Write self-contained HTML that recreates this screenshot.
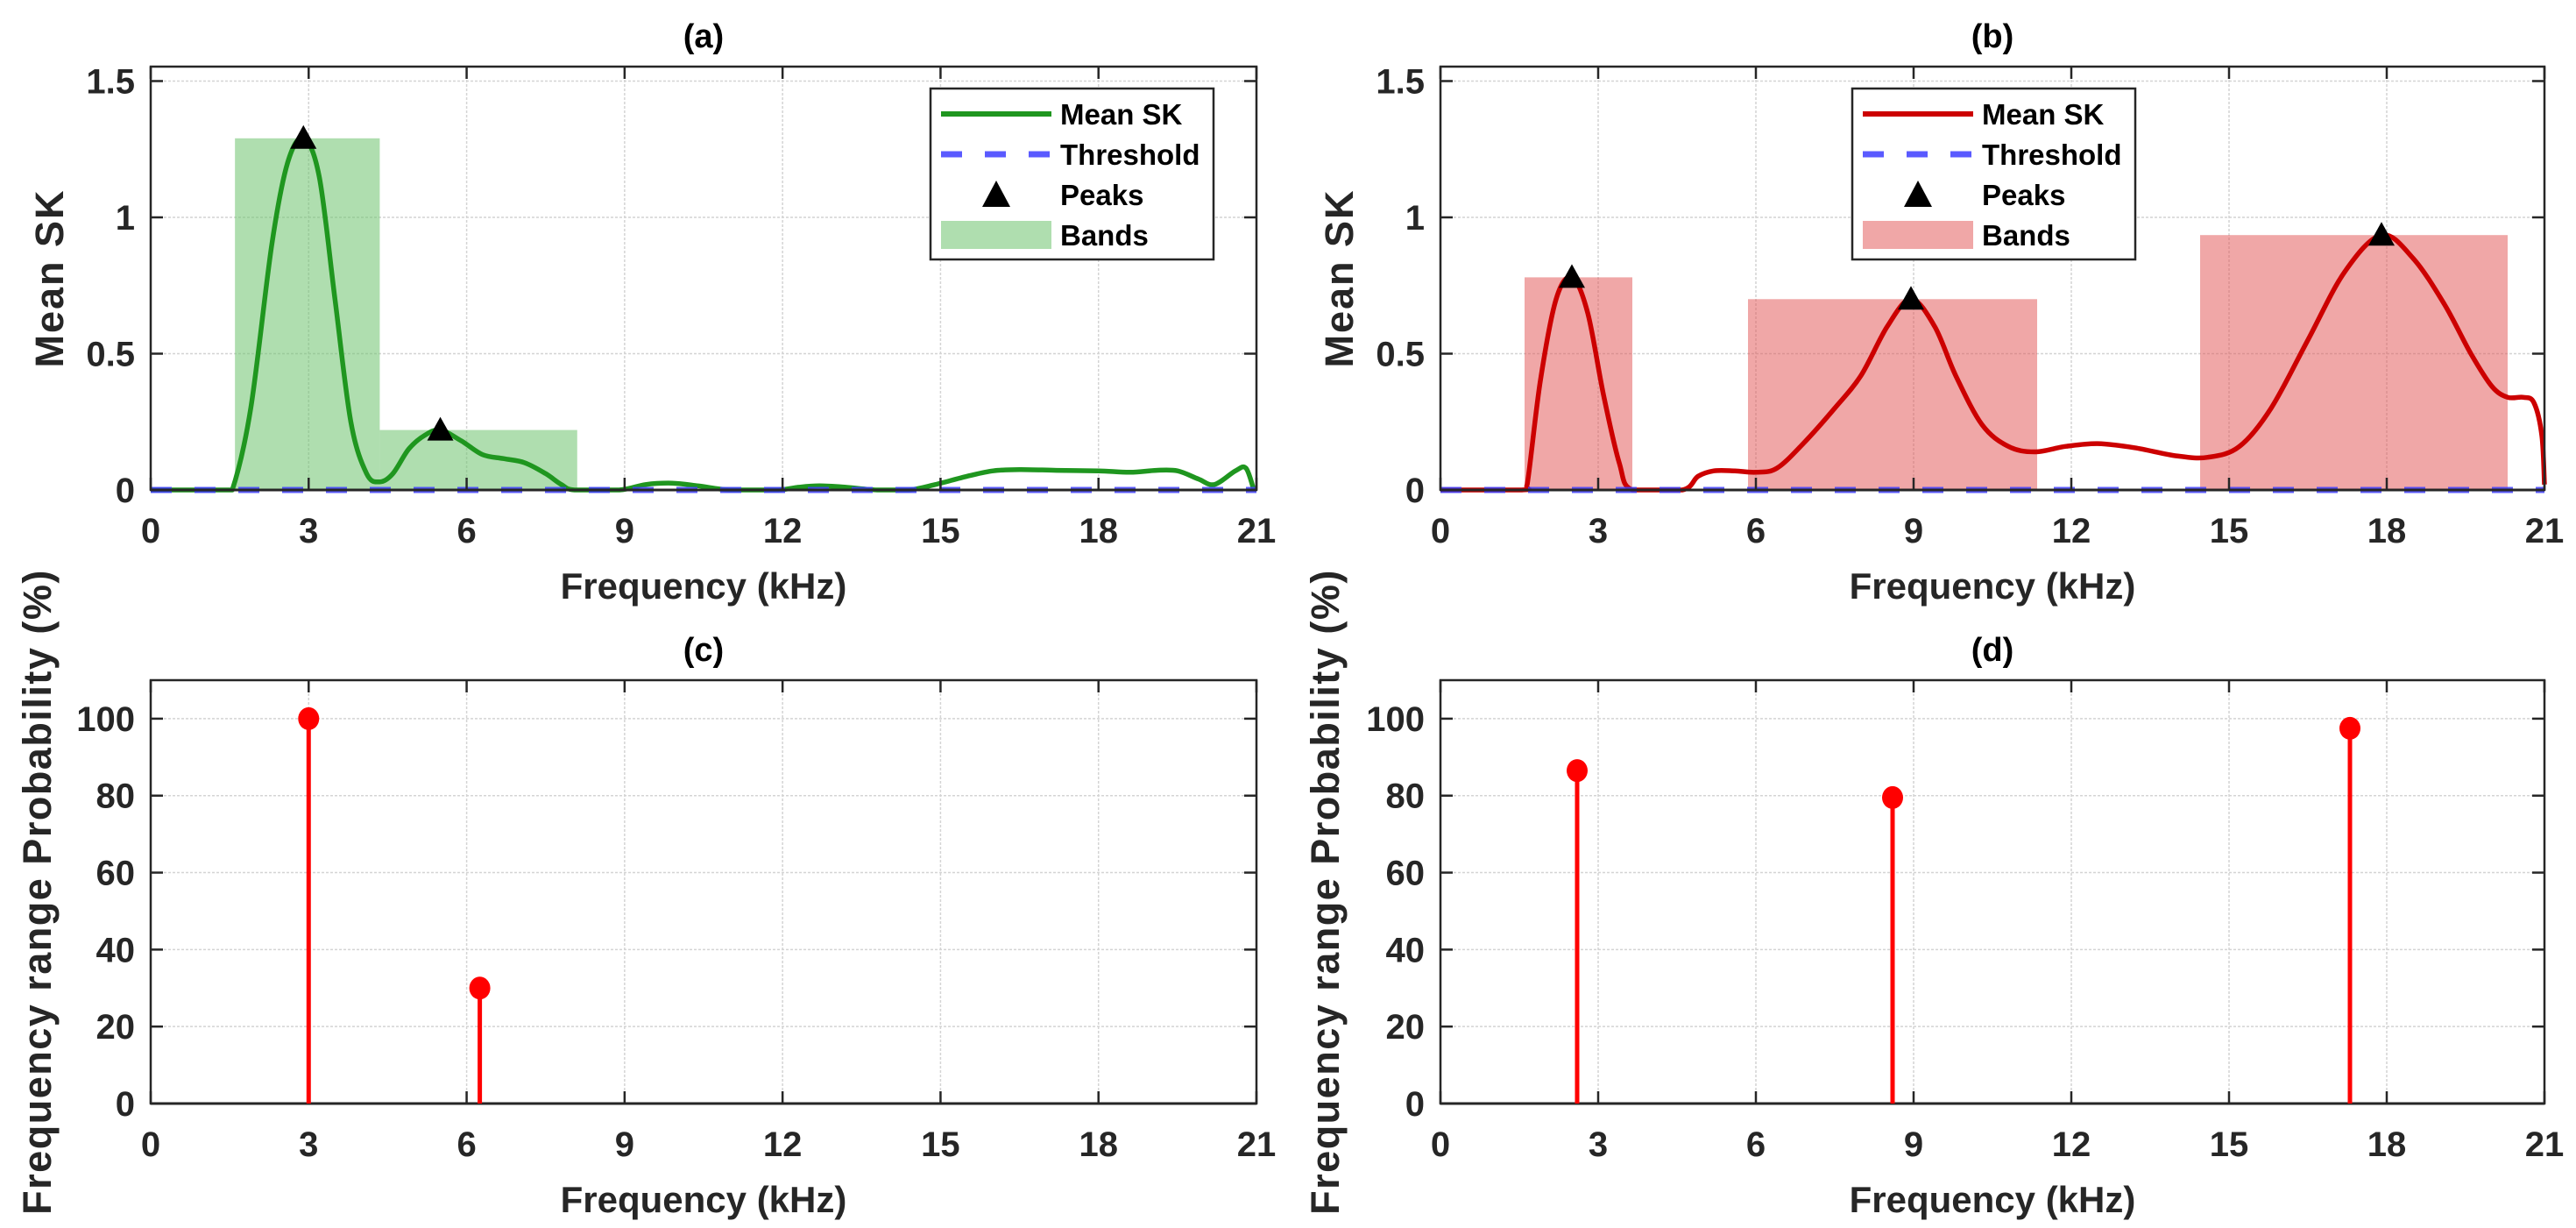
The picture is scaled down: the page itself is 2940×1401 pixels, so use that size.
<!DOCTYPE html>
<html><head><meta charset="utf-8"><style>
html,body{margin:0;padding:0;background:#fff;}
svg{display:block;font-family:"Liberation Sans",Arial,sans-serif;}
</style></head><body>
<svg id="fig" width="2940" height="1401" viewBox="0 0 2940 1401" xmlns="http://www.w3.org/2000/svg"></svg>
<script>
// ---- data ----
const xTicks = [0,3,6,9,12,15,18,21];
const skTicks = [0,0.5,1,1.5];
const skTickLabels = ['0','0.5','1','1.5'];
const probTicks = [0,20,40,60,80,100];

const curveA_x = [0,1.4,1.55,1.9,2.3,2.6,2.9,3.2,3.5,3.8,4.1,4.35,4.6,4.9,5.2,5.5,5.9,6.3,6.7,7.1,7.5,7.8,8.05,8.9,9.4,9.9,10.4,11.0,11.9,12.3,12.7,13.2,13.8,14.4,14.9,15.5,16.0,16.5,17.2,18.0,18.6,19.1,19.5,19.9,20.2,20.6,20.8,20.95];
const curveA_y = [0,0,0,0.3,0.9,1.2,1.29,1.15,0.7,0.25,0.06,0.03,0.06,0.15,0.2,0.22,0.18,0.13,0.115,0.1,0.06,0.02,0,0,0.02,0.025,0.015,0,0,0.01,0.015,0.01,0,0,0.02,0.05,0.07,0.075,0.072,0.07,0.065,0.072,0.07,0.04,0.02,0.07,0.08,0];
const bandsA_x0 = [1.6,4.35];
const bandsA_x1 = [4.35,8.1];
const bandsA_h = [1.29,0.22];
const peaksA_x = [2.9,5.5];
const peaksA_y = [1.29,0.22];

const curveB_x = [0,1.55,1.65,1.9,2.2,2.5,2.8,3.1,3.4,3.65,4.6,4.9,5.2,5.6,6.0,6.4,6.9,7.5,8.0,8.5,8.95,9.4,9.8,10.3,10.8,11.3,11.9,12.5,13.2,14.0,14.6,15.2,15.8,16.5,17.2,17.9,18.5,19.1,19.6,20.0,20.3,20.6,20.8,20.95,21.0];
const curveB_y = [0,0,0.02,0.4,0.7,0.78,0.65,0.35,0.1,0,0,0.05,0.07,0.07,0.065,0.08,0.17,0.3,0.42,0.6,0.7,0.6,0.42,0.24,0.16,0.14,0.16,0.17,0.155,0.125,0.12,0.16,0.3,0.55,0.8,0.935,0.85,0.68,0.5,0.38,0.34,0.34,0.32,0.2,0.02];
const bandsB_x0 = [1.6,5.85,14.45];
const bandsB_x1 = [3.65,11.35,20.3];
const bandsB_h = [0.78,0.70,0.935];
const peaksB_x = [2.5,8.95,17.9];
const peaksB_y = [0.78,0.70,0.935];

const stemsC_x = [3.0,6.25];
const stemsC_y = [100,30];
const stemsD_x = [2.6,8.6,17.3];
const stemsD_y = [86.5,79.5,97.5];

// ---- helpers ----
const NS='http://www.w3.org/2000/svg';
const svg=document.getElementById('fig');
function mk(tag,attrs,parent){const e=document.createElementNS(NS,tag);for(const k in attrs)e.setAttribute(k,attrs[k]);(parent||svg).appendChild(e);return e;}
function smoothPath(pts,base){
  let d='M'+pts[0][0].toFixed(1)+','+pts[0][1].toFixed(1);
  for(let i=0;i<pts.length-1;i++){
    const p0=pts[Math.max(0,i-1)],p1=pts[i],p2=pts[i+1],p3=pts[Math.min(pts.length-1,i+2)];
    const c1=[p1[0]+(p2[0]-p0[0])/6,Math.min(base,p1[1]+(p2[1]-p0[1])/6)];
    const c2=[p2[0]-(p3[0]-p1[0])/6,Math.min(base,p2[1]-(p3[1]-p1[1])/6)];
    d+=' C'+c1[0].toFixed(1)+','+c1[1].toFixed(1)+' '+c2[0].toFixed(1)+','+c2[1].toFixed(1)+' '+p2[0].toFixed(1)+','+p2[1].toFixed(1);
  }
  return d;
}

function axes(o){
  const g=mk('g',{});
  
  
  const X=v=>o.L+(v-0)/(21-0)*(o.R-o.L);
  const Y=v=>o.B-(v-o.ymin)/(o.ymax-o.ymin)*(o.B-o.T);
  xTicks.forEach(t=>{const l=mk('line',{x1:X(t),x2:X(t),y1:o.T,y2:o.B,stroke:'#d4d4d4','stroke-width':1.5,'stroke-dasharray':'3,2'},g);});
  o.yt.forEach(t=>{const l=mk('line',{x1:o.L,x2:o.R,y1:Y(t),y2:Y(t),stroke:'#d4d4d4','stroke-width':1.5,'stroke-dasharray':'3,2'},g);});
  o.X=X;o.Y=Y;o.g=g;
  return o;
}
function frame(o){
  const g=o.g,X=o.X,Y=o.Y;
  const r=mk('rect',{x:o.L,y:o.T,width:o.R-o.L,height:o.B-o.T,fill:'none',stroke:'#262626','stroke-width':2.5},g);
  
  mk('line',{x1:o.L,x2:o.R,y1:o.B,y2:o.B,stroke:'#262626','stroke-width':3},g);
  xTicks.forEach(t=>{
    mk('line',{x1:X(t),x2:X(t),y1:o.B,y2:o.B-14,stroke:'#262626','stroke-width':2.5},g);
    mk('line',{x1:X(t),x2:X(t),y1:o.T,y2:o.T+14,stroke:'#262626','stroke-width':2.5},g);
    const tx=mk('text',{x:X(t),y:o.B+60,'text-anchor':'middle','font-size':40,'font-weight':'bold',fill:'#262626'},g);
    tx.textContent=t;
  });
  o.yt.forEach((t,i)=>{
    mk('line',{x1:o.L,x2:o.L+14,y1:Y(t),y2:Y(t),stroke:'#262626','stroke-width':2.5},g);
    mk('line',{x1:o.R,x2:o.R-14,y1:Y(t),y2:Y(t),stroke:'#262626','stroke-width':2.5},g);
    const tx=mk('text',{x:o.L-18,y:Y(t)+14,'text-anchor':'end','font-size':40,'font-weight':'bold',fill:'#262626'},g);
    tx.textContent=o.ytl[i];
  });
  const ti=mk('text',{x:(o.L+o.R)/2,y:o.T-22,'text-anchor':'middle','font-size':38,'font-weight':'bold',fill:'#000'},g);
  ti.textContent=o.title;
  const xl=mk('text',{x:(o.L+o.R)/2,y:o.B+124,'text-anchor':'middle','font-size':42,'font-weight':'bold',fill:'#262626'},g);
  xl.textContent='Frequency (kHz)';
  const cy=o.ylcy||(o.T+o.B)/2;
  const yl=mk('text',{x:o.ylx,y:cy,'text-anchor':'middle','font-size':o.ylfs,'font-weight':'bold',fill:'#262626',transform:'rotate(-90 '+o.ylx+' '+cy+')','letter-spacing':o.ylls||0},g);
  yl.textContent=o.ylabel;
}

function skPanel(o,cx,cy,bx0,bx1,bh,px,py,lineCol,bandCol,legL){
  axes(o);const g=o.g,X=o.X,Y=o.Y;
  bx0.forEach((x0,i)=>{const r=mk('rect',{x:X(x0),y:Y(bh[i]),width:X(bx1[i])-X(x0),height:Y(0)-Y(bh[i]),fill:bandCol},g);});
  const pts=cx.map((x,i)=>[X(x),Y(cy[i])]);
  const p=mk('path',{d:smoothPath(pts,Y(0)),fill:'none',stroke:lineCol,'stroke-width':5.5,'stroke-linejoin':'round'},g);
  
  const th=mk('line',{x1:X(0),x2:X(21),y1:Y(0),y2:Y(0),stroke:'#3d3dff','stroke-opacity':0.85,'stroke-width':7,'stroke-dasharray':'24,26'},g);
  
  px.forEach((x,i)=>{const cxp=X(x),cyp=Y(py[i]);const t=mk('polygon',{points:(cxp-15)+','+(cyp+12)+' '+(cxp+15)+','+(cyp+12)+' '+cxp+','+(cyp-15),fill:'#000'},g);});
  frame(o);
  const lg=mk('g',{},g);
  mk('rect',{x:legL,y:101,width:323,height:195,fill:'#fff',stroke:'#262626','stroke-width':2.5},lg);
  const sx=legL+12,ex=legL+138,tx=legL+148;
  mk('line',{x1:sx,x2:ex,y1:130,y2:130,stroke:lineCol,'stroke-width':6},lg);
  mk('line',{x1:sx,x2:ex,y1:176,y2:176,stroke:'#3d3dff','stroke-opacity':0.85,'stroke-width':7,'stroke-dasharray':'24,26'},lg);
  const mx=(sx+ex)/2;
  mk('polygon',{points:(mx-16)+',236 '+(mx+16)+',236 '+mx+',206',fill:'#000'},lg);
  mk('rect',{x:sx,y:252,width:126,height:32,fill:bandCol},lg);
  ['Mean SK','Threshold','Peaks','Bands'].forEach((s,i)=>{const t=mk('text',{x:tx,y:[130,176,222,268][i]+12,'font-size':33,'font-weight':'bold',fill:'#000'},lg);t.textContent=s;});
}

function stemPanel(o,sx,sy){
  axes(o);const g=o.g,X=o.X,Y=o.Y;
  frame(o);
  sx.forEach((x,i)=>{
    const l=mk('line',{x1:X(x),x2:X(x),y1:Y(0),y2:Y(sy[i]),stroke:'#ff0000','stroke-width':5},g);
    
    const c=mk('ellipse',{cx:X(x),cy:Y(sy[i]),rx:12,ry:13,fill:'#ff0000'},g);
    
  });
}

skPanel({name:'panel-a',L:172,R:1434,T:76,B:559,ymin:0,ymax:1.553,yt:skTicks,ytl:skTickLabels,title:'(a)',ylabel:'Mean SK',ylx:72,ylfs:45,ylls:2},
  curveA_x,curveA_y,bandsA_x0,bandsA_x1,bandsA_h,peaksA_x,peaksA_y,'#1f961f','rgba(110,195,110,0.55)',1062);
skPanel({name:'panel-b',L:1644,R:2904,T:76,B:559,ymin:0,ymax:1.553,yt:skTicks,ytl:skTickLabels,title:'(b)',ylabel:'Mean SK',ylx:1544,ylfs:45,ylls:2},
  curveB_x,curveB_y,bandsB_x0,bandsB_x1,bandsB_h,peaksB_x,peaksB_y,'#cc0000','rgba(225,80,80,0.5)',2114);
stemPanel({name:'panel-c',L:172,R:1434,T:776,B:1259,ymin:0,ymax:110,yt:probTicks,ytl:probTicks.map(String),title:'(c)',ylabel:'Frequency range Probability (%)',ylx:58,ylfs:45,ylls:1.5},stemsC_x,stemsC_y);
stemPanel({name:'panel-d',L:1644,R:2904,T:776,B:1259,ymin:0,ymax:110,yt:probTicks,ytl:probTicks.map(String),title:'(d)',ylabel:'Frequency range Probability (%)',ylx:1528,ylfs:45,ylls:1.5},stemsD_x,stemsD_y);
</script>
</body></html>
